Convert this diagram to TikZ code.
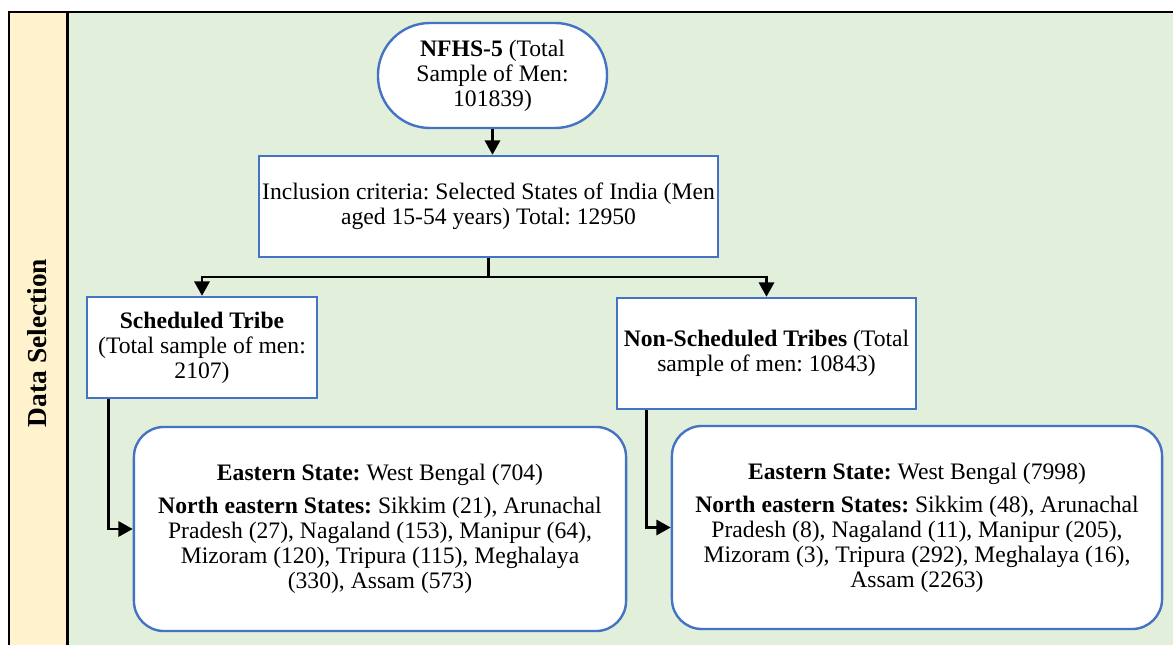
\documentclass[tikz,border=0pt]{standalone}
\usepackage{fontspec}
\setmainfont{Liberation Serif}
\frenchspacing
\usetikzlibrary{arrows.meta, positioning, calc}
\definecolor{bluebox}{RGB}{68,114,196}
\definecolor{greenpanel}{RGB}{226,239,218}
\definecolor{yellowside}{RGB}{255,242,204}

\begin{document}
\begin{tikzpicture}[x=0.025cm, y=-0.025cm,
        font=\fontsize{16.8}{17.8}\selectfont,
        box/.style={rectangle, draw=bluebox, line width=1.7pt, fill=white, align=center, inner sep=1pt},
        roundbox/.style={box, rounded corners=0.75cm},
        arr/.style={line width=1.9pt, -{Triangle[width=0.38cm,length=0.36cm]}}
    ]
        \useasboundingbox (0,0) rectangle (1173,645);
        \filldraw[fill=yellowside, draw=black, line width=0.9pt] (9,12) rectangle (67,690);
        \filldraw[fill=greenpanel, draw=black, line width=1.4pt] (68,12) rectangle (1220,690);
        \node[rotate=90, font=\fontsize{19.5}{22}\selectfont\bfseries] (side) at (37,343) {Data Selection};

        \node[box, rounded corners=1.3cm, minimum width=5.725cm, minimum height=2.625cm] (nfhs) at (492.5,75.5)
            {\textbf{NFHS-5} (Total\\Sample of Men:\\101839)};
        \node[box, minimum width=11.475cm, minimum height=2.525cm] (incl) at (488.5,206.5)
            {Inclusion criteria: Selected States of India (Men\\aged 15-54 years) Total: 12950};
        \node[box, minimum width=5.75cm, minimum height=2.525cm] (st) at (202,347.5)
            {\textbf{Scheduled Tribe}\\(Total sample of men:\\2107)};
        \node[box, minimum width=7.475cm, minimum height=2.775cm] (nst) at (766.5,353.5)
            {\textbf{Non-Scheduled Tribes} (Total\\sample of men: 10843)};
        \node[roundbox, minimum width=12.3cm, minimum height=5.1cm] (stlist) at (380,529)
            {\textbf{Eastern State:} West Bengal (704)\\[5.7pt]
            \textbf{North eastern States:} Sikkim (21), Arunachal\\
            Pradesh (27), Nagaland (153), Manipur (64),\\
            Mizoram (120), Tripura (115), Meghalaya\\
            (330), Assam (573)};
        \node[roundbox, minimum width=12.25cm, minimum height=5.075cm] (nstlist) at (917,527.5)
            {\textbf{Eastern State:} West Bengal (7998)\\[5.7pt]
            \textbf{North eastern States:} Sikkim (48), Arunachal\\
            Pradesh (8), Nagaland (11), Manipur (205),\\
            Mizoram (3), Tripura (292), Meghalaya (16),\\
            Assam (2263)};

        \coordinate (fork) at (488.5,277);
        \draw[arr] (nfhs.south) -- (nfhs.south |- incl.north);
        \draw[line width=1.9pt] (incl.south) -- (fork);
        \draw[arr] (fork) -| (st.north);
        \draw[arr] (fork) -| (nst.north);
        \draw[arr] ([xshift=0.575cm]st.south west) |- (stlist.west);
        \draw[arr] ([xshift=0.775cm]nst.south west) |- (nstlist.west);
    \end{tikzpicture}
\end{document}
